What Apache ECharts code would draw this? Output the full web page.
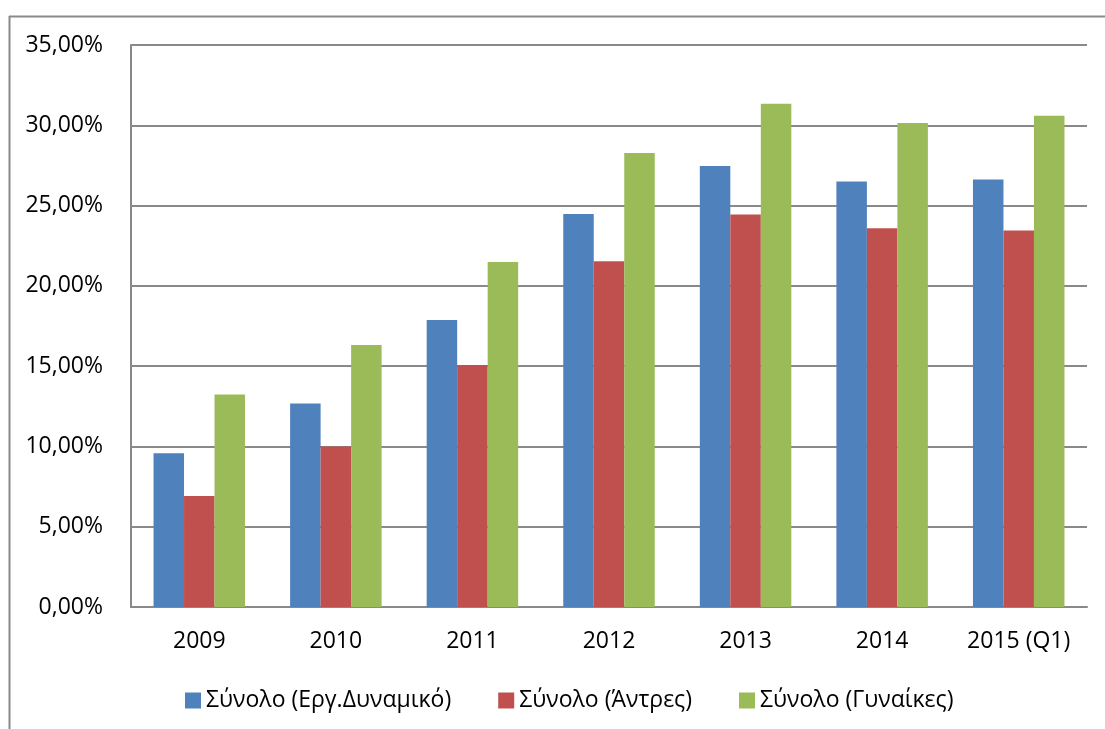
<!DOCTYPE html>
<html>
<head>
<meta charset="utf-8">
<script src="https://cdn.jsdelivr.net/npm/echarts@6/dist/echarts.min.js"></script>
<style>
html,body{margin:0;padding:0;background:#fff;}
#c{width:1105px;height:729px;}
</style>
</head>
<body>
<div id="c"></div>
<script>
const categories = ['2009','2010','2011','2012','2013','2014','2015 (Q1)'];
const seriesNames = ['Σύνολο (Εργ.Δυναμικό)','Σύνολο (Άντρες)','Σύνολο (Γυναίκες)'];
const totalValues = [9.57, 12.68, 17.87, 24.47, 27.46, 26.50, 26.63];
const menValues = [6.91, 10.00, 15.07, 21.54, 24.45, 23.58, 23.45];
const womenValues = [13.24, 16.31, 21.48, 28.27, 31.34, 30.14, 30.59];
const yTicks = {min: 0, max: 35, interval: 5};
const colors = ['#4F81BD','#C0504D','#9BBB59'];

const chart = echarts.init(document.getElementById('c'), null, {renderer:'canvas'});
const font = '"Open Sans", sans-serif';
const fmt = v => v.toFixed(2).replace('.', ',') + '%';
const data = [totalValues, menValues, womenValues];
chart.setOption({
  animation: false,
  backgroundColor: '#fff',
  color: colors,
  grid: {left: 131, top: 45, right: 18, bottom: 122, containLabel: false},
  graphic: [
    {type:'line', shape:{x1:9.5,y1:16,x2:9.5,y2:729}, style:{stroke:'#898989', lineWidth:2}},
    {type:'line', shape:{x1:9,y1:16.5,x2:1105,y2:16.5}, style:{stroke:'#898989', lineWidth:2}}
  ],
  legend: {
    top: 684, left: 180, itemWidth: 16, itemHeight: 16, itemGap: 47,
    icon: 'rect',
    textStyle: {fontFamily: font, fontSize: 23, color: '#000'},
    data: seriesNames
  },
  xAxis: {
    type: 'category', data: categories,
    axisLine: {show: true, lineStyle: {color: '#898989', width: 2}},
    axisTick: {show: false},
    axisLabel: {fontFamily: font, fontSize: 23, color: '#000', margin: 23}
  },
  yAxis: {
    type: 'value', min: yTicks.min, max: yTicks.max, interval: yTicks.interval,
    axisLine: {show: true, lineStyle: {color: '#898989', width: 2}},
    axisTick: {show: false},
    splitLine: {show: true, lineStyle: {color: '#898989', width: 2}},
    axisLabel: {fontFamily: font, fontSize: 23, color: '#000', margin: 28, formatter: fmt}
  },
  series: seriesNames.map((n, i) => ({
    name: n, type: 'bar', data: data[i],
    barGap: '0%', barCategoryGap: '33%',
    itemStyle: {color: colors[i]}
  }))
});
</script>
</body>
</html>
